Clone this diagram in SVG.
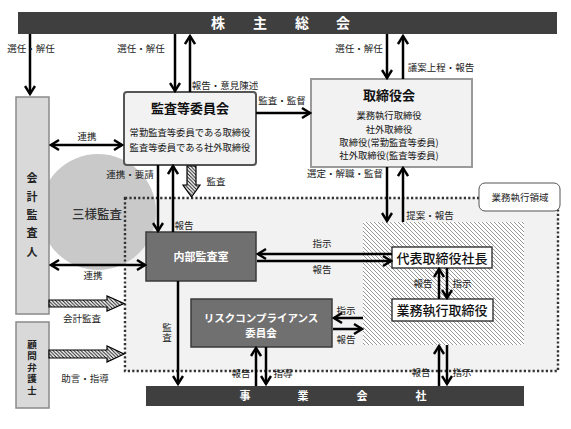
<svg xmlns="http://www.w3.org/2000/svg" width="571" height="429" viewBox="0 0 571 429">
<style>
text{font-family:"Noto Sans CJK JP","Noto Sans",sans-serif;}
.lb{font-size:9.5px;fill:#222;text-anchor:middle;}
.ln{stroke:#000;stroke-width:2.5;fill:none;marker-end:url(#ah);}
.ln2{stroke:#000;stroke-width:2.5;fill:none;marker-end:url(#ah);marker-start:url(#ah);}
.bar{fill:#3f3f3f;}
.bart{font-size:14px;font-weight:bold;fill:#fff;text-anchor:middle;}
.side{fill:#d9d9d9;stroke:#8a8a8a;stroke-width:1.5;}
.sidet{font-size:11px;font-weight:bold;fill:#222;text-anchor:middle;}
.dark{fill:#707070;stroke:#3a3a3a;stroke-width:1.5;}
.darkt{font-size:11px;font-weight:bold;fill:#fff;text-anchor:middle;}
.wbox{fill:#fff;stroke:#222;stroke-width:1.3;}
.wt{font-size:13px;font-weight:500;fill:#111;text-anchor:middle;}
.sub{font-size:9.3px;fill:#111;text-anchor:middle;}
.ttl{font-size:13px;font-weight:bold;fill:#111;text-anchor:middle;}
.blk{fill:url(#hatch2);stroke:#000;stroke-width:1.2;}
</style>
<defs>
<marker id="ah" viewBox="0 0 12 12" refX="10" refY="6" markerWidth="12" markerHeight="12" markerUnits="userSpaceOnUse" orient="auto-start-reverse">
<path d="M2,1 L10,6 L2,11" fill="none" stroke="#000" stroke-width="2.4"/>
</marker>
<pattern id="hatch" width="4" height="4" patternUnits="userSpaceOnUse">
<rect width="4" height="4" fill="#fff"/>
<path d="M-1,-1 L5,5 M-1,3 L1,5 M3,-1 L5,1" stroke="#8a8a8a" stroke-width="0.9"/>
</pattern>
<pattern id="hatch2" width="3.5" height="3.5" patternUnits="userSpaceOnUse">
<rect width="3.5" height="3.5" fill="#fff"/>
<path d="M-1,-1 L4.5,4.5 M-1,2.5 L1,4.5 M2.5,-1 L4.5,1" stroke="#111" stroke-width="1"/>
</pattern>
</defs>

<!-- business execution area -->
<rect x="125" y="198" width="433" height="173" fill="#f2f2f2"/>
<g id="sanyo">
<circle cx="98" cy="212" r="58" fill="#c9c9c9"/>
<text x="97" y="218.5" style="font-size:12.5px;font-weight:500;fill:#333;text-anchor:middle;">三様監査</text>
</g>
<rect x="125" y="198" width="433" height="173" fill="none" stroke="#333" stroke-width="2.4" stroke-dasharray="2.2 2.2"/>
<g id="area-label">
<rect x="479" y="183" width="81" height="28" rx="6" fill="#fff" stroke="#555" stroke-width="1"/>
<text x="520" y="200.5" class="lb">業務執行領域</text>
</g>
<rect id="exec-area" x="363" y="222" width="161" height="123" fill="url(#hatch)"/>

<g id="shareholders">
<rect class="bar" x="18" y="12" width="539" height="22"/>
<text class="bart" x="218 260 302 343" y="28">株主総会</text>
</g>

<g id="auditor">
<rect class="side" x="16" y="97" width="33" height="217"/>
<text class="sidet" x="32 32 32 32 32" y="182 201 219 237 256">会計監査人</text>
</g>

<g id="lawyer">
<rect class="side" x="16" y="322" width="33" height="86"/>
<text class="sidet" style="font-size:9.5px" x="32 32 32 32 32" y="347.5 359 370.5 382 393.5">顧問弁護士</text>
</g>

<g id="audit-committee">
<rect x="124" y="92" width="132" height="73" rx="3" fill="#f2f2f2" stroke="#555" stroke-width="2"/>
<text class="ttl" x="190" y="113">監査等委員会</text>
<text class="sub" x="190" y="135.5">常勤監査等委員である取締役</text>
<text class="sub" x="190" y="150.5">監査等委員である社外取締役</text>
</g>

<g id="board">
<rect x="311" y="79" width="161" height="88" fill="#f2f2f2" stroke="#9a9a9a" stroke-width="2"/>
<text class="ttl" x="389" y="99.5">取締役会</text>
<text class="sub" x="389" y="118.5">業務執行取締役</text>
<text class="sub" x="389" y="132.5">社外取締役</text>
<text class="sub" x="389" y="145.5">取締役(常勤監査等委員)</text>
<text class="sub" x="389" y="158.5">社外取締役(監査等委員)</text>
</g>

<g id="internal-audit">
<rect class="dark" x="146" y="232" width="110" height="49"/>
<text class="darkt" x="201" y="261">内部監査室</text>
</g>

<g id="risk">
<rect class="dark" x="191" y="299" width="141" height="48"/>
<text class="darkt" style="font-size:10.5px" x="261" y="321.5">リスクコンプライアンス</text>
<text class="darkt" style="font-size:10.5px" x="261" y="336.5">委員会</text>
</g>

<g id="president">
<rect class="wbox" x="392" y="247" width="100" height="21"/>
<text class="wt" x="442" y="262.5">代表取締役社長</text>
</g>

<g id="exec-directors">
<rect class="wbox" x="392" y="299" width="101" height="22"/>
<text class="wt" x="442" y="314.5">業務執行取締役</text>
</g>

<g id="operating-company">
<rect class="bar" x="146" y="386" width="378" height="20"/>
<text class="bart" style="font-size:11px" x="245 303 362 421" y="400">事業会社</text>
</g>

<g id="connectors">
<path class="ln" d="M30,34 V94"/>
<path class="ln" d="M175,34 V91"/>
<path class="ln" d="M190,92 V36"/>
<path class="ln" d="M387,34 V78"/>
<path class="ln" d="M403,79 V36"/>
<path class="ln" d="M256,113 H310"/>
<path class="ln2" d="M51,145 H122"/>
<path class="ln" d="M158,165 V231"/>
<path class="ln" d="M173,232 V166"/>
<path class="ln2" d="M51,265 H145"/>
<path class="ln" d="M387,167 V221"/>
<path class="ln" d="M403,222 V168"/>
<path class="ln" d="M392,254 H258"/>
<path class="ln" d="M257,261 H391"/>
<path class="ln" d="M439,299 V269"/>
<path class="ln" d="M447,268 V298"/>
<path class="ln" d="M178,281 V384"/>
<path class="ln" d="M363,318 H334"/>
<path class="ln" d="M333,329 H362"/>
<path class="ln" d="M256,386 V348"/>
<path class="ln" d="M266,347 V384"/>
<path class="ln" d="M439,386 V346"/>
<path class="ln" d="M447,345 V384"/>
<path class="blk" d="M187,166 H196 V185 H200 L191.5,197 L183,185 H187 Z"/>
<path class="blk" d="M49,300 H107 V296 L124,303.5 L107,311 V307 H49 Z"/>
<path class="blk" d="M49,350 H107 V346 L124,354 L107,362 V358 H49 Z"/>
</g>

<g id="labels">
<text class="lb" x="31" y="51.5">選任・解任</text>
<text class="lb" x="141" y="51.5">選任・解任</text>
<text class="lb" x="225" y="88.5">報告・意見陳述</text>
<text class="lb" x="359" y="51.5">選任・解任</text>
<text class="lb" x="441" y="70.5">議案上程・報告</text>
<text class="lb" x="282" y="104">監査・監督</text>
<text class="lb" x="87" y="140">連携</text>
<text class="lb" x="130" y="177.5">連携・要請</text>
<text class="lb" x="216" y="184.5">監査</text>
<text class="lb" x="184" y="228.5">報告</text>
<text class="lb" x="93" y="278.5">連携</text>
<text class="lb" x="345" y="177">選定・解職・監督</text>
<text class="lb" x="430" y="219">提案・報告</text>
<text class="lb" x="322" y="246.5">指示</text>
<text class="lb" x="322" y="272.5">報告</text>
<text class="lb" x="423" y="286.5">報告</text>
<text class="lb" x="462" y="286.5">指示</text>
<text class="lb" x="167 167" y="330.5 340.5">監査</text>
<text class="lb" x="346" y="313.5">指示</text>
<text class="lb" x="346" y="342.5">報告</text>
<text class="lb" x="241" y="376.5">報告</text>
<text class="lb" x="283" y="376.5">指導</text>
<text class="lb" x="421" y="375.5">報告</text>
<text class="lb" x="462" y="375.5">指示</text>
<text class="lb" x="82" y="321.5">会計監査</text>
<text class="lb" x="85" y="381.5">助言・指導</text>
</g>
</svg>
